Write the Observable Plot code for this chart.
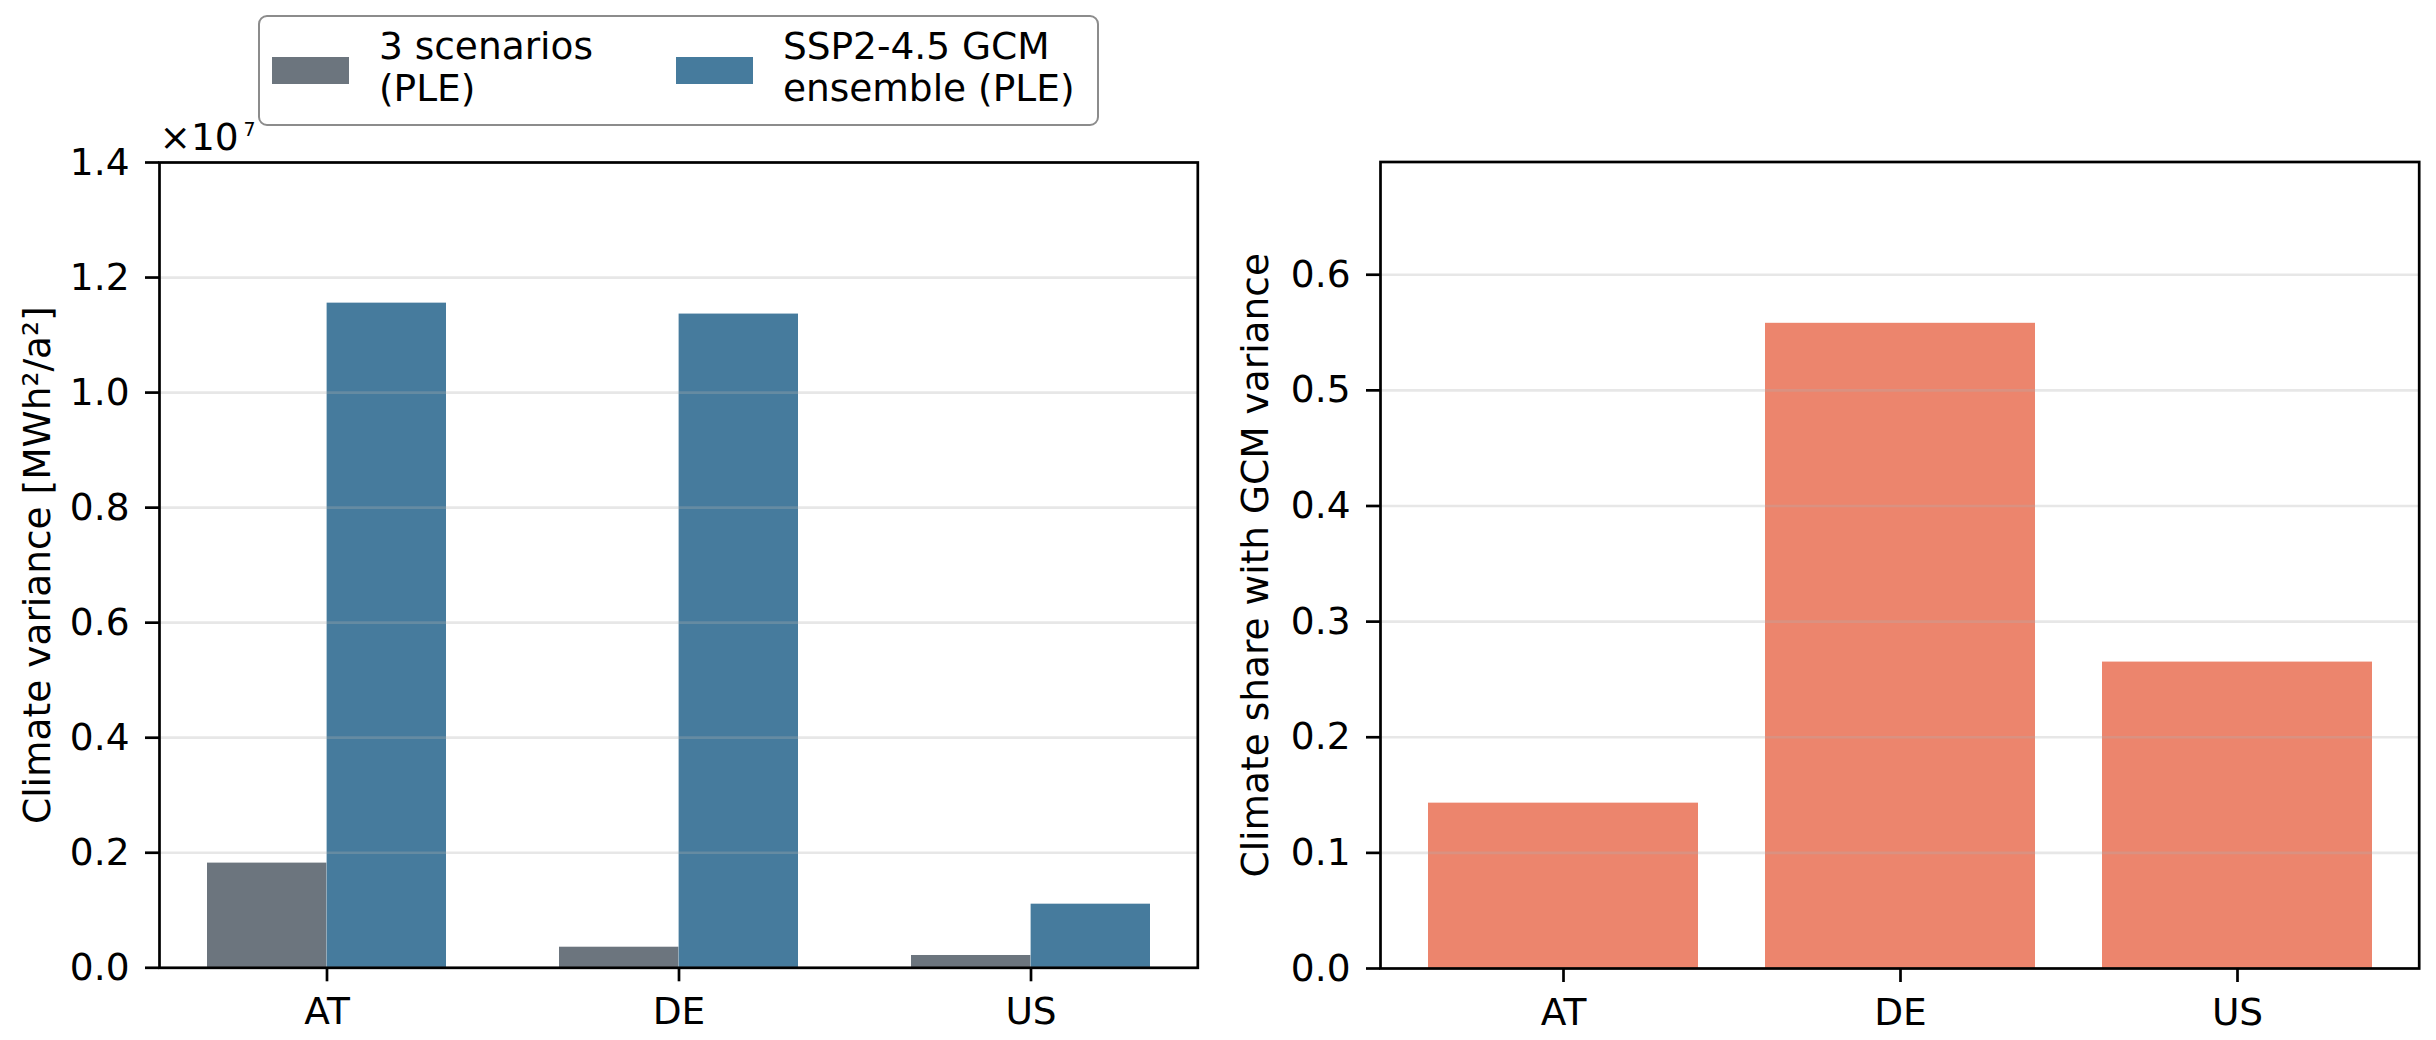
<!DOCTYPE html>
<html>
<head>
<meta charset="utf-8">
<script src="https://cdn.jsdelivr.net/npm/d3@7"></script>
<script src="https://cdn.jsdelivr.net/npm/@observablehq/plot@0.6"></script>
<style>
  html, body { margin: 0; padding: 0; background: #fff; }
  #wrap { position: relative; width: 2436px; height: 1040px; font-family: 'DejaVu Sans', sans-serif; }
  #left, #right { position: absolute; top: 0; }
  #left { left: 0; }
  #right { left: 1218px; }
  #legend { position: absolute; left: 258px; top: 15px; width: 841px; height: 111px; box-sizing: border-box;
            border: 2.6px solid #8c8c8c; border-radius: 9px; background: #fff; z-index: 5; }
  .sw { position: absolute; top: 40.4px; width: 77px; height: 27px; }
  .lab { position: absolute; top: 8.4px; font-size: 37.5px; line-height: 42px; white-space: pre; color: #000;
         font-family: 'DejaVu Sans', sans-serif; }
</style>
</head>
<body>
<div id="wrap">
  <div id="left"></div>
  <div id="right"></div>
  <div id="legend"></div>
</div>
<script>
// ---------- data ----------
const countries = ["AT", "DE", "US"];
const scenarioVariance = [1.82e6, 0.358e6, 0.214e6];      // 3 scenarios (PLE)
const ensembleVariance = [11.555e6, 11.365e6, 1.106e6];   // SSP2-4.5 GCM ensemble (PLE)
const climateShare = [0.143, 0.558, 0.265];
const seriesLabels = ["3 scenarios\n(PLE)", "SSP2-4.5 GCM\nensemble (PLE)"];
const seriesColors = ["#6c757e", "#467b9d"];
const shareColor = "#ec856d";
const leftTicks = [0, 0.2e7, 0.4e7, 0.6e7, 0.8e7, 1.0e7, 1.2e7, 1.4e7];
const rightTicks = [0, 0.1, 0.2, 0.3, 0.4, 0.5, 0.6];
const leftYLabel = "Climate variance [MWh²/a²]";
const rightYLabel = "Climate share with GCM variance";
const offsetBase = "×10";
const offsetExp = "7";

// ---------- shared style ----------
const W = 1218, H = 1040;
const FS = 37.5;
const baseStyle = { fontFamily: "'DejaVu Sans', sans-serif", fontSize: FS + "px", background: "#fff", overflow: "visible", color: "#000" };
const gridOpts = { stroke: "#b0b0b0", strokeOpacity: 0.3, strokeWidth: 2.7 };
const axisOpts = { tickSize: 14, strokeWidth: 2.7, label: null, fontSize: FS };

// ---------- left: grouped bars ----------
const L = { marginLeft: 159, marginRight: 20.7, marginTop: 162, marginBottom: 72.7 };
const padInL = 0.321, padOutL = 0.134;
const innerWL = W - L.marginLeft - L.marginRight;
const stepL = innerWL / (countries.length - padInL + 2 * padOutL);
const halfBand = stepL * (1 - padInL) / 2;
const rowsL = countries.map((c, i) => ({ country: c, scen: scenarioVariance[i], ens: ensembleVariance[i] }));

const left = Plot.plot({
  width: W, height: H, ...L,
  style: baseStyle,
  x: { type: "band", domain: countries, paddingInner: padInL, paddingOuter: padOutL },
  y: { domain: [0, 1.4e7] },
  marks: [
    Plot.barY(rowsL, { x: "country", y: "scen", fill: seriesColors[0], insetRight: halfBand }),
    Plot.barY(rowsL, { x: "country", y: "ens", fill: seriesColors[1], insetLeft: halfBand }),
    Plot.gridY({ ticks: leftTicks, ...gridOpts }),
    Plot.axisY({ ticks: leftTicks, tickFormat: d => (d / 1e7).toFixed(1), tickPadding: 16, ...axisOpts }),
    Plot.axisX({ tickPadding: 15.4, ...axisOpts }),
    Plot.frame({ stroke: "#000", strokeWidth: 2.7 }),
    Plot.text([leftYLabel], { text: d => d, frameAnchor: "left", rotate: -90, dx: -110, textAnchor: "middle", lineAnchor: "bottom", fontSize: FS }),
    Plot.text([offsetBase], { text: d => d, frameAnchor: "top-left", textAnchor: "start", lineAnchor: "bottom", dx: 0, dy: -12.7, fontSize: FS }),
    Plot.text([offsetExp], { text: d => d, frameAnchor: "top-left", textAnchor: "start", lineAnchor: "bottom", dx: 84, dy: -26.5, fontSize: 19 })
  ]
});
document.getElementById("left").appendChild(left);

// ---------- right: single bars ----------
const R = { marginLeft: 162, marginRight: 17.3, marginTop: 161.5, marginBottom: 72 };
const rowsR = countries.map((c, i) => ({ country: c, share: climateShare[i] }));
const right = Plot.plot({
  width: W, height: H, ...R,
  style: baseStyle,
  x: { type: "band", domain: countries, paddingInner: 0.2, paddingOuter: 0.14 },
  y: { domain: [0, 0.6975] },
  marks: [
    Plot.barY(rowsR, { x: "country", y: "share", fill: shareColor }),
    Plot.gridY({ ticks: rightTicks, ...gridOpts }),
    Plot.axisY({ ticks: rightTicks, tickFormat: d => d.toFixed(1), tickPadding: 16, ...axisOpts }),
    Plot.axisX({ tickPadding: 15.4, ...axisOpts }),
    Plot.frame({ stroke: "#000", strokeWidth: 2.7 }),
    Plot.text([rightYLabel], { text: d => d, frameAnchor: "left", rotate: -90, dx: -113, textAnchor: "middle", lineAnchor: "bottom", fontSize: FS })
  ]
});
document.getElementById("right").appendChild(right);

// ---------- legend ----------
const legend = document.getElementById("legend");
const swLeft = [12.4, 416.4];
const labLeft = [118.9, 522.9];
seriesLabels.forEach((lab, i) => {
  const sw = document.createElement("div");
  sw.className = "sw";
  sw.style.left = swLeft[i] + "px";
  sw.style.background = seriesColors[i];
  legend.appendChild(sw);
  const t = document.createElement("div");
  t.className = "lab";
  t.style.left = labLeft[i] + "px";
  t.textContent = lab;
  legend.appendChild(t);
});
</script>
</body>
</html>
